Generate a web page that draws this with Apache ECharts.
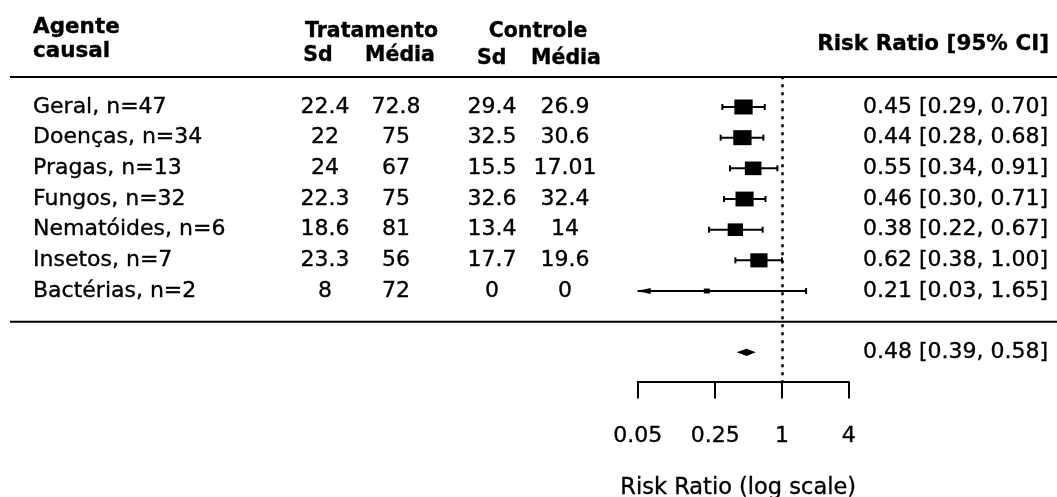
<!DOCTYPE html>
<html><head><meta charset="utf-8">
<script src="https://cdn.jsdelivr.net/npm/echarts@6/dist/echarts.min.js"></script>
<style>html,body{margin:0;padding:0;background:#fff}#c{width:1057px;height:497px}</style>
</head><body><div id="c"></div>
<script>
// ---- data ----
var agentes = ['Geral, n=47','Doenças, n=34','Pragas, n=13','Fungos, n=32','Nematóides, n=6','Insetos, n=7','Bactérias, n=2'];
var tratSd = [22.4, 22, 24, 22.3, 18.6, 23.3, 8];
var tratMedia = [72.8, 75, 67, 75, 81, 56, 72];
var ctrlSd = [29.4, 32.5, 15.5, 32.6, 13.4, 17.7, 0];
var ctrlMedia = [26.9, 30.6, 17.01, 32.4, 14, 19.6, 0];
var rr = [0.45, 0.44, 0.55, 0.46, 0.38, 0.62, 0.21];
var ciLower = [0.29, 0.28, 0.34, 0.30, 0.22, 0.38, 0.03];
var ciUpper = [0.70, 0.68, 0.91, 0.71, 0.67, 1.00, 1.65];
var pesos = [1.00, 1.00, 0.91, 0.99, 0.84, 0.94, 0.33];
var resumoRR = [0.48, 0.39, 0.58];
var xTicks = [0.05, 0.25, 1, 4];

// ---- layout ----
var FONT = 'DejaVu Sans';
var rows = agentes.map(function(_, i){ return i; });
var sepRow = 7, sumRow = 8, topRow = -0.98;
var lnTicks = xTicks.map(function(t){ return Math.log(t); });
function fmt(v){ return v.toFixed(2); }
var rightTexts = rr.map(function(v, i){ return fmt(v) + ' [' + fmt(ciLower[i]) + ', ' + fmt(ciUpper[i]) + ']'; });
var sumText = fmt(resumoRR[0]) + ' [' + fmt(resumoRR[1]) + ', ' + fmt(resumoRR[2]) + ']';

function pxToK(px){ return (px - 107) / 30.67; }

function textSeries(texts, x, ks, size, weight, align){
  return {
    type: 'scatter', xAxisIndex: 0, yAxisIndex: 0, symbolSize: 0, silent: true, clip: false,
    animation: false, z: 5,
    itemStyle: { opacity: 1, color: '#000' },
    data: texts.map(function(t, i){ return { name: String(t), value: [x, ks[i]] }; }),
    label: { show: true, position: 'inside', formatter: '{b}', color: '#000', opacity: 1,
      textBorderColor: '#000', textBorderWidth: 0.35,
      fontFamily: FONT, fontSize: size, fontWeight: weight, align: align, verticalAlign: 'middle' },
    emphasis: { disabled: true }
  };
}
function hline(k){
  return { type: 'line', xAxisIndex: 0, yAxisIndex: 0, symbol: 'none', silent: true, clip: false,
    animation: false, data: [[10, k], [1057, k]], lineStyle: { color: '#000', width: 2 } };
}

var xMinLn = Math.log(xTicks[0]);
var ciData = rows.map(function(i){ return [Math.log(ciLower[i]), Math.log(ciUpper[i]), i]; });
var ptData = rows.map(function(i){ return [Math.log(rr[i]), i]; });

var series = [
  textSeries(['Agente'], 33, [pxToK(27.5)], 21.5, 'bold', 'left'),
  textSeries(['causal'], 33, [pxToK(51.7)], 21.5, 'bold', 'left'),
  textSeries(['Tratamento'], 371.5, [pxToK(32)], 20.5, 'bold', 'center'),
  textSeries(['Sd'], 318, [pxToK(56)], 20.5, 'bold', 'center'),
  textSeries(['Média'], 400, [pxToK(56)], 20.5, 'bold', 'center'),
  textSeries(['Controle'], 538, [pxToK(31.7)], 20.5, 'bold', 'center'),
  textSeries(['Sd'], 491.7, [pxToK(58.5)], 20.5, 'bold', 'center'),
  textSeries(['Média'], 566, [pxToK(58.5)], 20.5, 'bold', 'center'),
  textSeries(['Risk Ratio [95% CI]'], 1049, [pxToK(44)], 21.5, 'bold', 'right'),
  textSeries(agentes, 33, rows, 22, 'normal', 'left'),
  textSeries(tratSd, 325, rows, 22, 'normal', 'center'),
  textSeries(tratMedia, 396, rows, 22, 'normal', 'center'),
  textSeries(ctrlSd, 492, rows, 22, 'normal', 'center'),
  textSeries(ctrlMedia, 565, rows, 22, 'normal', 'center'),
  textSeries(rightTexts, 1048, rows, 22, 'normal', 'right'),
  textSeries([sumText], 1048, [sumRow], 22, 'normal', 'right'),
  hline(topRow),
  hline(sepRow),
  {
    type: 'custom', xAxisIndex: 1, yAxisIndex: 1, silent: true, animation: false, z: 3,
    data: ciData,
    renderItem: function(params, api){
      var lo = api.value(0), hi = api.value(1), k = api.value(2);
      var loC = Math.max(lo, xMinLn);
      var p1 = api.coord([loC, k]), p2 = api.coord([hi, k]);
      var st = { stroke: '#000', lineWidth: 2 };
      var ch = [{ type: 'line', shape: { x1: p1[0], y1: p1[1], x2: p2[0], y2: p2[1] }, style: st }];
      if (lo >= xMinLn) {
        ch.push({ type: 'line', shape: { x1: p1[0], y1: p1[1] - 3, x2: p1[0], y2: p1[1] + 3 }, style: st });
      } else {
        ch.push({ type: 'polygon', shape: { points: [[p1[0] - 1, p1[1]], [p1[0] + 13, p1[1] - 3], [p1[0] + 13, p1[1] + 3]] }, style: { fill: '#000' } });
      }
      ch.push({ type: 'line', shape: { x1: p2[0], y1: p2[1] - 3, x2: p2[0], y2: p2[1] + 3 }, style: st });
      return { type: 'group', children: ch };
    },
    markLine: {
      silent: true, symbol: 'none', animation: false,
      label: { show: false },
      lineStyle: { color: '#000', width: 2.5, type: [3, 5], opacity: 1 },
      data: [{ xAxis: 0 }]
    }
  },
  {
    type: 'scatter', xAxisIndex: 1, yAxisIndex: 1, silent: true, animation: false, z: 4,
    symbol: 'rect', data: ptData,
    symbolSize: function(val, p){ var r = pesos[p.dataIndex]; return [18.3 * r, 15 * r]; },
    itemStyle: { color: '#000', opacity: 1 },
    emphasis: { disabled: true }
  },
  {
    type: 'custom', xAxisIndex: 1, yAxisIndex: 1, silent: true, animation: false, z: 4,
    data: [[Math.log(resumoRR[0]), Math.log(resumoRR[1]), Math.log(resumoRR[2]), sumRow]],
    renderItem: function(params, api){
      var k = api.value(3);
      var pe = api.coord([api.value(0), k]), pl = api.coord([api.value(1), k]), ph = api.coord([api.value(2), k]);
      return { type: 'polygon', shape: { points: [[pl[0], pl[1]], [pe[0], pe[1] - 3.6], [ph[0], ph[1]], [pe[0], pe[1] + 3.6]] }, style: { fill: '#000' } };
    }
  }
];

var chart = echarts.init(document.getElementById('c'), null, { renderer: 'canvas' });
chart.setOption({
  backgroundColor: '#fff',
  animation: false,
  textStyle: { fontFamily: FONT },
  grid: [
    { left: 0, top: 0, width: 1057, height: 497, containLabel: false, outerBoundsMode: 'none' },
    { left: 637.7, top: 76.33, width: 211, height: 305.2, containLabel: false, outerBoundsMode: 'none' }
  ],
  xAxis: [
    { gridIndex: 0, type: 'value', min: 0, max: 1057, show: false },
    { gridIndex: 1, type: 'value', min: Math.log(xTicks[0]), max: Math.log(xTicks[xTicks.length - 1]),
      axisLine: { show: true, onZero: false, lineStyle: { color: '#000', width: 2 } },
      axisTick: { show: true, length: 17, lineStyle: { color: '#000', width: 2 }, customValues: lnTicks },
      axisLabel: { show: true, customValues: lnTicks, margin: 44, color: '#000', fontFamily: FONT, fontSize: 22,
        textBorderColor: '#000', textBorderWidth: 0.35,
        formatter: function(v){
          for (var i = 0; i < xTicks.length; i++) { if (Math.abs(lnTicks[i] - v) < 1e-6) return String(xTicks[i]); }
          return '';
        } },
      splitLine: { show: false },
      name: 'Risk Ratio (log scale)', nameLocation: 'middle', nameGap: 95,
      nameTextStyle: { color: '#000', fontFamily: FONT, fontSize: 22.5, padding: [0, 10, 0, 0],
        textBorderColor: '#000', textBorderWidth: 0.35 }
    }
  ],
  yAxis: [
    { gridIndex: 0, type: 'value', min: pxToK(0), max: pxToK(497), inverse: true, show: false },
    { gridIndex: 1, type: 'value', min: -1, max: -1 + 305.2 / 30.67, inverse: true, show: false }
  ],
  series: series
});
</script>
</body></html>
